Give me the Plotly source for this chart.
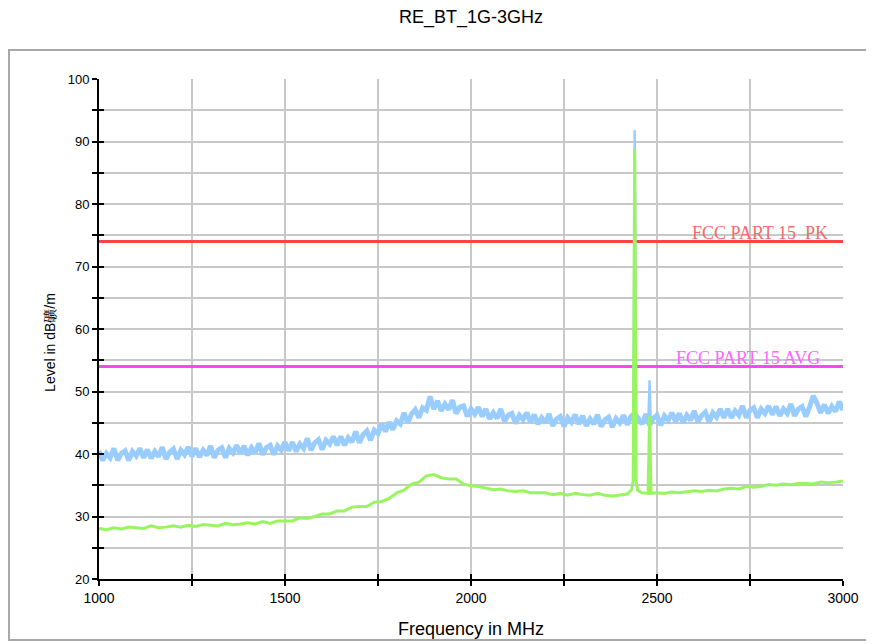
import plotly.graph_objects as go

# ---------------- data ----------------
freq_10 = list(range(1000, 3001, 10))
blue_level = [
    40.5, 39.0, 40.1, 39.4, 40.9, 39.0, 40.1, 40.5, 39.0, 40.4,
    39.7, 40.9, 39.4, 40.7, 39.3, 40.4, 39.6, 41.1, 39.2, 40.3,
    40.8, 39.2, 40.6, 39.9, 41.1, 39.6, 40.9, 39.5, 40.6, 39.8,
    41.3, 39.4, 40.6, 41.0, 39.4, 40.9, 40.2, 41.4, 40.0, 41.3,
    39.8, 41.0, 40.2, 41.7, 39.9, 41.0, 41.4, 39.9, 41.3, 40.6,
    41.9, 40.5, 41.9, 40.4, 41.6, 40.9, 42.5, 40.6, 41.8, 42.3,
    40.7, 42.2, 41.6, 42.8, 41.4, 42.8, 41.4, 42.6, 41.9, 43.6,
    41.8, 43.1, 43.7, 42.2, 43.8, 43.3, 44.8, 43.6, 45.1, 43.9,
    45.3, 44.8, 46.6, 45.0, 46.4, 47.1, 45.8, 47.4, 47.0, 49.2,
    47.2, 48.5, 46.9, 48.0, 47.1, 48.6, 46.5, 47.5, 47.7, 46.0,
    47.2, 46.4, 47.5, 46.0, 47.2, 45.6, 46.6, 45.7, 47.2, 45.2,
    46.2, 46.5, 44.9, 46.2, 45.5, 46.6, 45.1, 46.3, 44.8, 45.8,
    45.0, 46.4, 44.5, 45.6, 46.0, 44.4, 45.8, 45.1, 46.3, 44.8,
    46.1, 44.5, 45.6, 44.8, 46.3, 44.4, 45.5, 45.9, 44.3, 45.7,
    45.0, 46.2, 44.7, 46.0, 46.5, 45.6, 44.8, 46.4, 44.6, 45.7,
    46.2, 44.6, 46.1, 45.4, 46.6, 45.2, 46.5, 45.0, 46.2, 45.4,
    46.9, 45.1, 46.2, 46.7, 45.1, 46.6, 45.9, 47.2, 45.8, 47.2,
    45.8, 46.9, 46.2, 47.7, 45.8, 47.0, 47.4, 45.8, 47.2, 46.5,
    47.7, 46.3, 47.6, 46.1, 47.2, 46.5, 48.0, 46.1, 47.2, 47.6,
    46.0, 47.5, 49.3, 48.1, 46.6, 47.9, 46.5, 47.6, 46.8, 48.4,
    47.0,
]
blue_spike1_freq = [2436, 2438, 2440, 2442, 2444]
blue_spike1_level = [46.0, 60.0, 91.8, 60.0, 46.0]
blue_spike2_freq = [2477, 2480, 2483]
blue_spike2_level = [45.5, 51.8, 45.5]

freq_20 = list(range(1000, 3001, 20))
green_level = [
    28.1, 27.9, 28.2, 28.0, 28.3, 28.2, 28.1, 28.5, 28.2, 28.3,
    28.5, 28.3, 28.6, 28.4, 28.7, 28.6, 28.5, 28.9, 28.7, 28.8,
    29.0, 28.8, 29.2, 28.9, 29.3, 29.3, 29.3, 29.8, 29.7, 30.0,
    30.4, 30.4, 30.9, 30.9, 31.5, 31.6, 31.6, 32.3, 32.4, 32.9,
    33.8, 34.2, 35.2, 35.5, 36.5, 36.7, 36.2, 36.0, 36.0, 35.2,
    34.9, 34.8, 34.6, 34.3, 34.4, 34.1, 34.0, 34.1, 33.8, 33.8,
    33.8, 33.5, 33.7, 33.4, 33.7, 33.5, 33.4, 33.7, 33.4, 33.3,
    33.5, 33.6, 34.0, 33.8, 33.6, 33.8, 33.7, 33.9, 33.8, 34.0,
    34.1, 34.0, 34.2, 34.1, 34.4, 34.5, 34.4, 34.8, 34.7, 34.8,
    35.1, 35.0, 35.2, 35.1, 35.3, 35.3, 35.2, 35.5, 35.4, 35.5,
    35.7,
]
green_spike_freq = [2432, 2436, 2440, 2444, 2448, 2476, 2480, 2484]
green_spike_level = [34.3, 35.8, 88.8, 35.6, 34.2, 33.7, 46.0, 33.7]

limit_freq = [1000, 3000]
pk_limit = [74, 74]
avg_limit = [54, 54]

x_tickvals = [1000, 1250, 1500, 1750, 2000, 2250, 2500, 2750, 3000]
x_ticktext = ["1000", "", "1500", "", "2000", "", "2500", "", "3000"]
y_tickvals = [20, 25, 30, 35, 40, 45, 50, 55, 60, 65, 70, 75, 80, 85, 90, 95, 100]
y_ticktext = ["20", "", "30", "", "40", "", "50", "", "60", "", "70", "", "80", "", "90", "", "100"]


def merge(f, v, sf, sv):
    d = dict(zip(f, v))
    d.update(zip(sf, sv))
    keys = sorted(d)
    return keys, [d[k] for k in keys]


gx, gy = merge(freq_20, green_level, green_spike_freq, green_spike_level)

BLUE = "#99ccff"
fig = go.Figure()
fig.add_trace(go.Scatter(x=limit_freq, y=pk_limit, mode="lines",
                         line=dict(color="#ff4444", width=3), showlegend=False))
fig.add_trace(go.Scatter(x=limit_freq, y=avg_limit, mode="lines",
                         line=dict(color="#ff44ff", width=3), showlegend=False))
fig.add_trace(go.Scatter(x=freq_10, y=blue_level, mode="lines",
                         line=dict(color=BLUE, width=5), showlegend=False))
fig.add_trace(go.Scatter(x=blue_spike1_freq, y=blue_spike1_level, mode="lines",
                         line=dict(color=BLUE, width=2.5), showlegend=False))
fig.add_trace(go.Scatter(x=blue_spike2_freq, y=blue_spike2_level, mode="lines",
                         line=dict(color=BLUE, width=2.5), showlegend=False))
fig.add_trace(go.Scatter(x=gx, y=gy, mode="lines",
                         line=dict(color="#99f55f", width=3), showlegend=False))
# invisible helper trace for the inside-tick overlay axes
fig.add_trace(go.Scatter(x=[limit_freq[0]], y=[y_tickvals[0]], xaxis="x2", yaxis="y2",
                         mode="markers", marker=dict(opacity=0), showlegend=False,
                         hoverinfo="skip"))

xtickfont = dict(family="Liberation Sans, Arial, sans-serif", size=14, color="black")
ytickfont = dict(family="Liberation Sans, Arial, sans-serif", size=13, color="black")

fig.update_layout(
    width=874, height=644,
    margin=dict(l=91, r=39, t=71, b=73),
    paper_bgcolor="white", plot_bgcolor="white",
    title=dict(text="RE_BT_1G-3GHz", x=0.5, xref="paper", xanchor="center",
               y=0.986, yref="container", yanchor="middle",
               font=dict(family="Liberation Sans, Arial, sans-serif", size=18, color="black")),
    xaxis=dict(range=[1000, 3000], tickmode="array", tickvals=x_tickvals, ticktext=x_ticktext,
               ticks="outside", ticklen=5, tickwidth=1.5, tickcolor="black",
               showline=True, linecolor="black", linewidth=2,
               showgrid=True, gridcolor="#c8c8c8", gridwidth=2, zeroline=False,
               tickfont=xtickfont,
               title=dict(text="Frequency in MHz", standoff=18,
                          font=dict(family="Liberation Sans, Arial, sans-serif", size=18, color="black"))),
    yaxis=dict(range=[20, 100], tickmode="array", tickvals=y_tickvals, ticktext=y_ticktext,
               ticks="outside", ticklen=5, tickwidth=1.5, tickcolor="black",
               showline=True, linecolor="black", linewidth=2,
               showgrid=True, gridcolor="#c8c8c8", gridwidth=2, zeroline=False,
               tickfont=ytickfont),
    xaxis2=dict(range=[1000, 3000], overlaying="x", side="bottom", tickmode="array",
                tickvals=x_tickvals, ticktext=[""] * len(x_tickvals), ticks="inside",
                ticklen=5, tickwidth=1.5, tickcolor="black", showgrid=False,
                zeroline=False, showline=False),
    yaxis2=dict(range=[20, 100], overlaying="y", side="left", tickmode="array",
                tickvals=y_tickvals, ticktext=[""] * len(y_tickvals), ticks="inside",
                ticklen=5, tickwidth=1.5, tickcolor="black", showgrid=False,
                zeroline=False, showline=False),
    showlegend=False,
)

fig.add_annotation(text="Level in dB礦/m", xref="paper", yref="paper", x=-0.066, y=0.474,
                   textangle=-90, showarrow=False, xanchor="center", yanchor="middle",
                   font=dict(family="Liberation Sans, Arial, sans-serif", size=14, color="black"))
fig.add_annotation(text="FCC PART 15\u00a0\u00a0PK", x=2965, y=pk_limit[0], xref="x", yref="y",
                   xanchor="right", yanchor="middle", yshift=9, showarrow=False,
                   font=dict(family="Liberation Serif, Times New Roman, serif", size=18, color="#f26b6b"))
fig.add_annotation(text="FCC PART 15 AVG", x=2943, y=avg_limit[0], xref="x", yref="y",
                   xanchor="right", yanchor="middle", yshift=9, showarrow=False,
                   font=dict(family="Liberation Serif, Times New Roman, serif", size=18, color="#ff66ff"))

# outer frame
fig.add_shape(type="rect", xref="paper", yref="paper", x0=-0.121, x1=1.039, y0=-0.122, y1=1.058,
              line=dict(color="#a8a8a8", width=2), fillcolor="rgba(0,0,0,0)", layer="below")

fig.write_html("out.html")
